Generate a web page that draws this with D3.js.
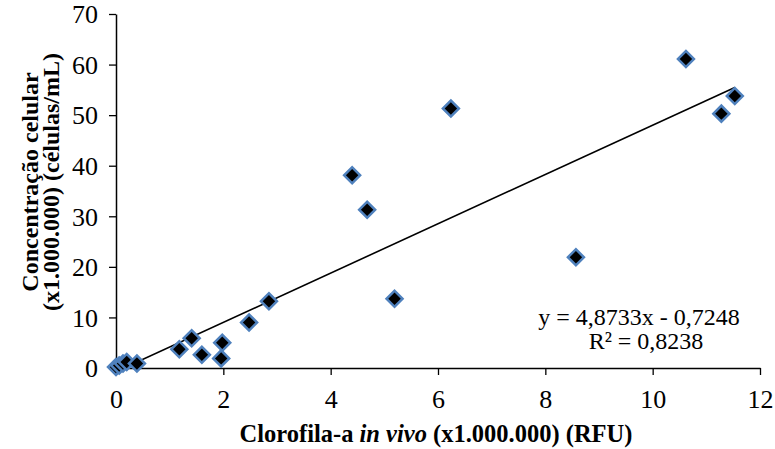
<!DOCTYPE html>
<html>
<head>
<meta charset="utf-8">
<script src="https://cdn.jsdelivr.net/npm/d3@7"></script>
<style>
  html, body { margin: 0; padding: 0; background: #fff; }
  svg { display: block; }
  text { font-family: "Liberation Serif", "Times New Roman", serif; fill: #000; }
</style>
</head>
<body>
<svg id="chart" width="775" height="449"></svg>
<script>
// Chlorophyll-a in vivo (x1.000.000 RFU) vs cell concentration (x1.000.000 cells/mL)
const clorofila = [0.00, 0.06, 0.13, 0.20, 0.39, 1.18, 1.41, 1.60, 1.96, 1.98, 2.48, 2.85,
                   4.40, 4.68, 5.19, 6.24, 8.57, 10.62, 11.28, 11.53];
const concentracao = [0.2, 0.5, 0.9, 1.2, 0.9, 3.7, 5.9, 2.6, 1.9, 5.0, 9.0, 13.2,
                      38.1, 31.3, 13.7, 51.3, 21.9, 61.1, 50.3, 53.8];
const xTicks = [0, 2, 4, 6, 8, 10, 12];
const yTicks = [0, 10, 20, 30, 40, 50, 60, 70];
const slope = 4.8733, intercept = -0.7248;
const equationLines = ["y = 4,8733x - 0,7248", "R² = 0,8238"];

const svg = d3.select("#chart");
const x = d3.scaleLinear().domain([0, 12]).range([116, 760]);
const y = d3.scaleLinear().domain([0, 70]).range([368, 14]);

svg.append("defs").append("clipPath").attr("id", "plot")
  .append("rect").attr("x", x(0)).attr("y", y(70))
  .attr("width", x(12) - x(0)).attr("height", y(0) - y(70));

// Axes
const xAxis = svg.append("g").attr("transform", `translate(0,${y(0)})`)
  .call(d3.axisBottom(x).tickValues(xTicks).tickSize(7).tickPadding(10).tickSizeOuter(0));
const yAxis = svg.append("g").attr("transform", `translate(${x(0)},0)`)
  .call(d3.axisLeft(y).tickValues(yTicks).tickSize(7).tickPadding(11).tickSizeOuter(0));
[xAxis, yAxis].forEach(g => {
  g.select(".domain").attr("stroke", "#000").attr("stroke-width", 1.5);
  g.selectAll(".tick line").attr("stroke", "#000").attr("stroke-width", 1.3);
  g.selectAll(".tick text").attr("font-size", 26).attr("font-family", "Liberation Serif").attr("fill", "#000");
});
xAxis.selectAll(".tick text").attr("dy", "0.9em");
yAxis.selectAll(".tick text").attr("dy", "0.34em");

// Linear trendline over the data range
const xs = d3.extent(clorofila);
svg.append("line")
  .attr("clip-path", "url(#plot)")
  .attr("x1", x(xs[0])).attr("y1", y(slope * xs[0] + intercept))
  .attr("x2", x(xs[1])).attr("y2", y(slope * xs[1] + intercept))
  .attr("stroke", "#000").attr("stroke-width", 1.6);

// Diamond markers
const diamond = d3.symbol().type(d3.symbolSquare).size(2 * 8 * 8);
svg.append("g").selectAll("path")
  .data(d3.zip(clorofila, concentracao))
  .join("path")
  .attr("d", diamond)
  .attr("transform", d => `translate(${x(d[0])},${y(d[1])}) rotate(45)`)
  .attr("fill", "#000")
  .attr("stroke", "#4F81BD")
  .attr("stroke-width", 2.5);

// Equation and R²
svg.append("g").selectAll("text")
  .data(equationLines)
  .join("text")
  .attr("x", (d, i) => i === 0 ? 639 : 646)
  .attr("y", (d, i) => 325 + i * 24)
  .attr("text-anchor", "middle")
  .attr("font-size", 24)
  .text(d => d);

// X axis title
const xt = svg.append("text")
  .attr("x", 436).attr("y", 442)
  .attr("text-anchor", "middle")
  .attr("font-size", 24.5).attr("font-weight", "bold");
xt.append("tspan").text("Clorofila-a  ");
xt.append("tspan").attr("font-style", "italic").text("in vivo");
xt.append("tspan").text(" (x1.000.000) (RFU)");

// Y axis title (two lines)
const yt = svg.append("text")
  .attr("transform", "translate(0,182) rotate(-90)")
  .attr("text-anchor", "middle")
  .attr("font-size", 24).attr("font-weight", "bold");
yt.append("tspan").attr("x", 0).attr("y", 38).text("Concentração  celular");
yt.append("tspan").attr("x", 0).attr("y", 59).text("(x1.000.000) (células/mL)");
</script>
</body>
</html>
